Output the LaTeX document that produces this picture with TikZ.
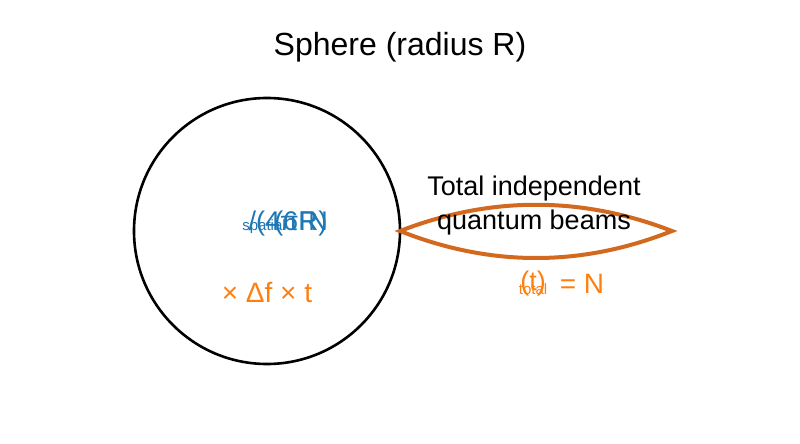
\documentclass[tikz,border=0pt]{standalone}
\usepackage{fontspec}
\setmainfont{Liberation Sans}
\usetikzlibrary{calc}

\definecolor{beamorange}{HTML}{D2691E}
\definecolor{textorange}{HTML}{FF7F0E}
\definecolor{textblue}{HTML}{1F77B4}

\tikzset{
  lbl/.style={inner sep=0pt, anchor=base},
  big/.style={lbl, font=\fontsize{27}{32}\selectfont},
  small/.style={lbl, font=\fontsize{15}{18}\selectfont}
}

\begin{document}
\begin{tikzpicture}[x=1pt,y=-1pt]

\useasboundingbox (0,0) rectangle (800,444);

% Define points
\coordinate (O) at (267,231);
\coordinate (L) at (400,231);
\coordinate (Rt) at (672,231);

% Sphere
\draw[line width=2.6pt] (O) circle (133);

% Lens of beams
\draw[beamorange, line width=4pt, line join=miter]
  (L) .. controls ($(L)!0.333!(Rt)+(0,-35)$) and ($(L)!0.667!(Rt)+(0,-35)$) .. (Rt)
      .. controls ($(L)!0.667!(Rt)+(0,36)$) and ($(L)!0.333!(Rt)+(0,36)$) .. (L) -- cycle;

% Title
\node[lbl, font=\fontsize{32}{38}\selectfont] (title) at (400,56) {Sphere (radius R)};

% Beam label
\node[big] (beams1) at (534,195) {Total independent};
\node[big] (beams2) at (534,229) {quantum beams};

% Blue overlapping labels
\node[small, textblue] (sp) at (264,230) {spatial};
\node[big, textblue] (fr) at (288,230) {/(4πR)};
\node[big, textblue] (cr) at (296,230) {(6R};
\node[big, textblue] (nn) at (318,230) {N};

% Orange labels
\node[lbl, textorange, font=\fontsize{28}{32}\selectfont] (df) at (267,302) {× Δf × t};
\node[small, textorange] (tot) at (533,294) {total};
\node[big, textorange] (tt) at (533,290) {(t)};
\node[lbl, textorange, font=\fontsize{28}{32}\selectfont] (eqn) at (582,293) {= N};

\end{tikzpicture}
\end{document}
